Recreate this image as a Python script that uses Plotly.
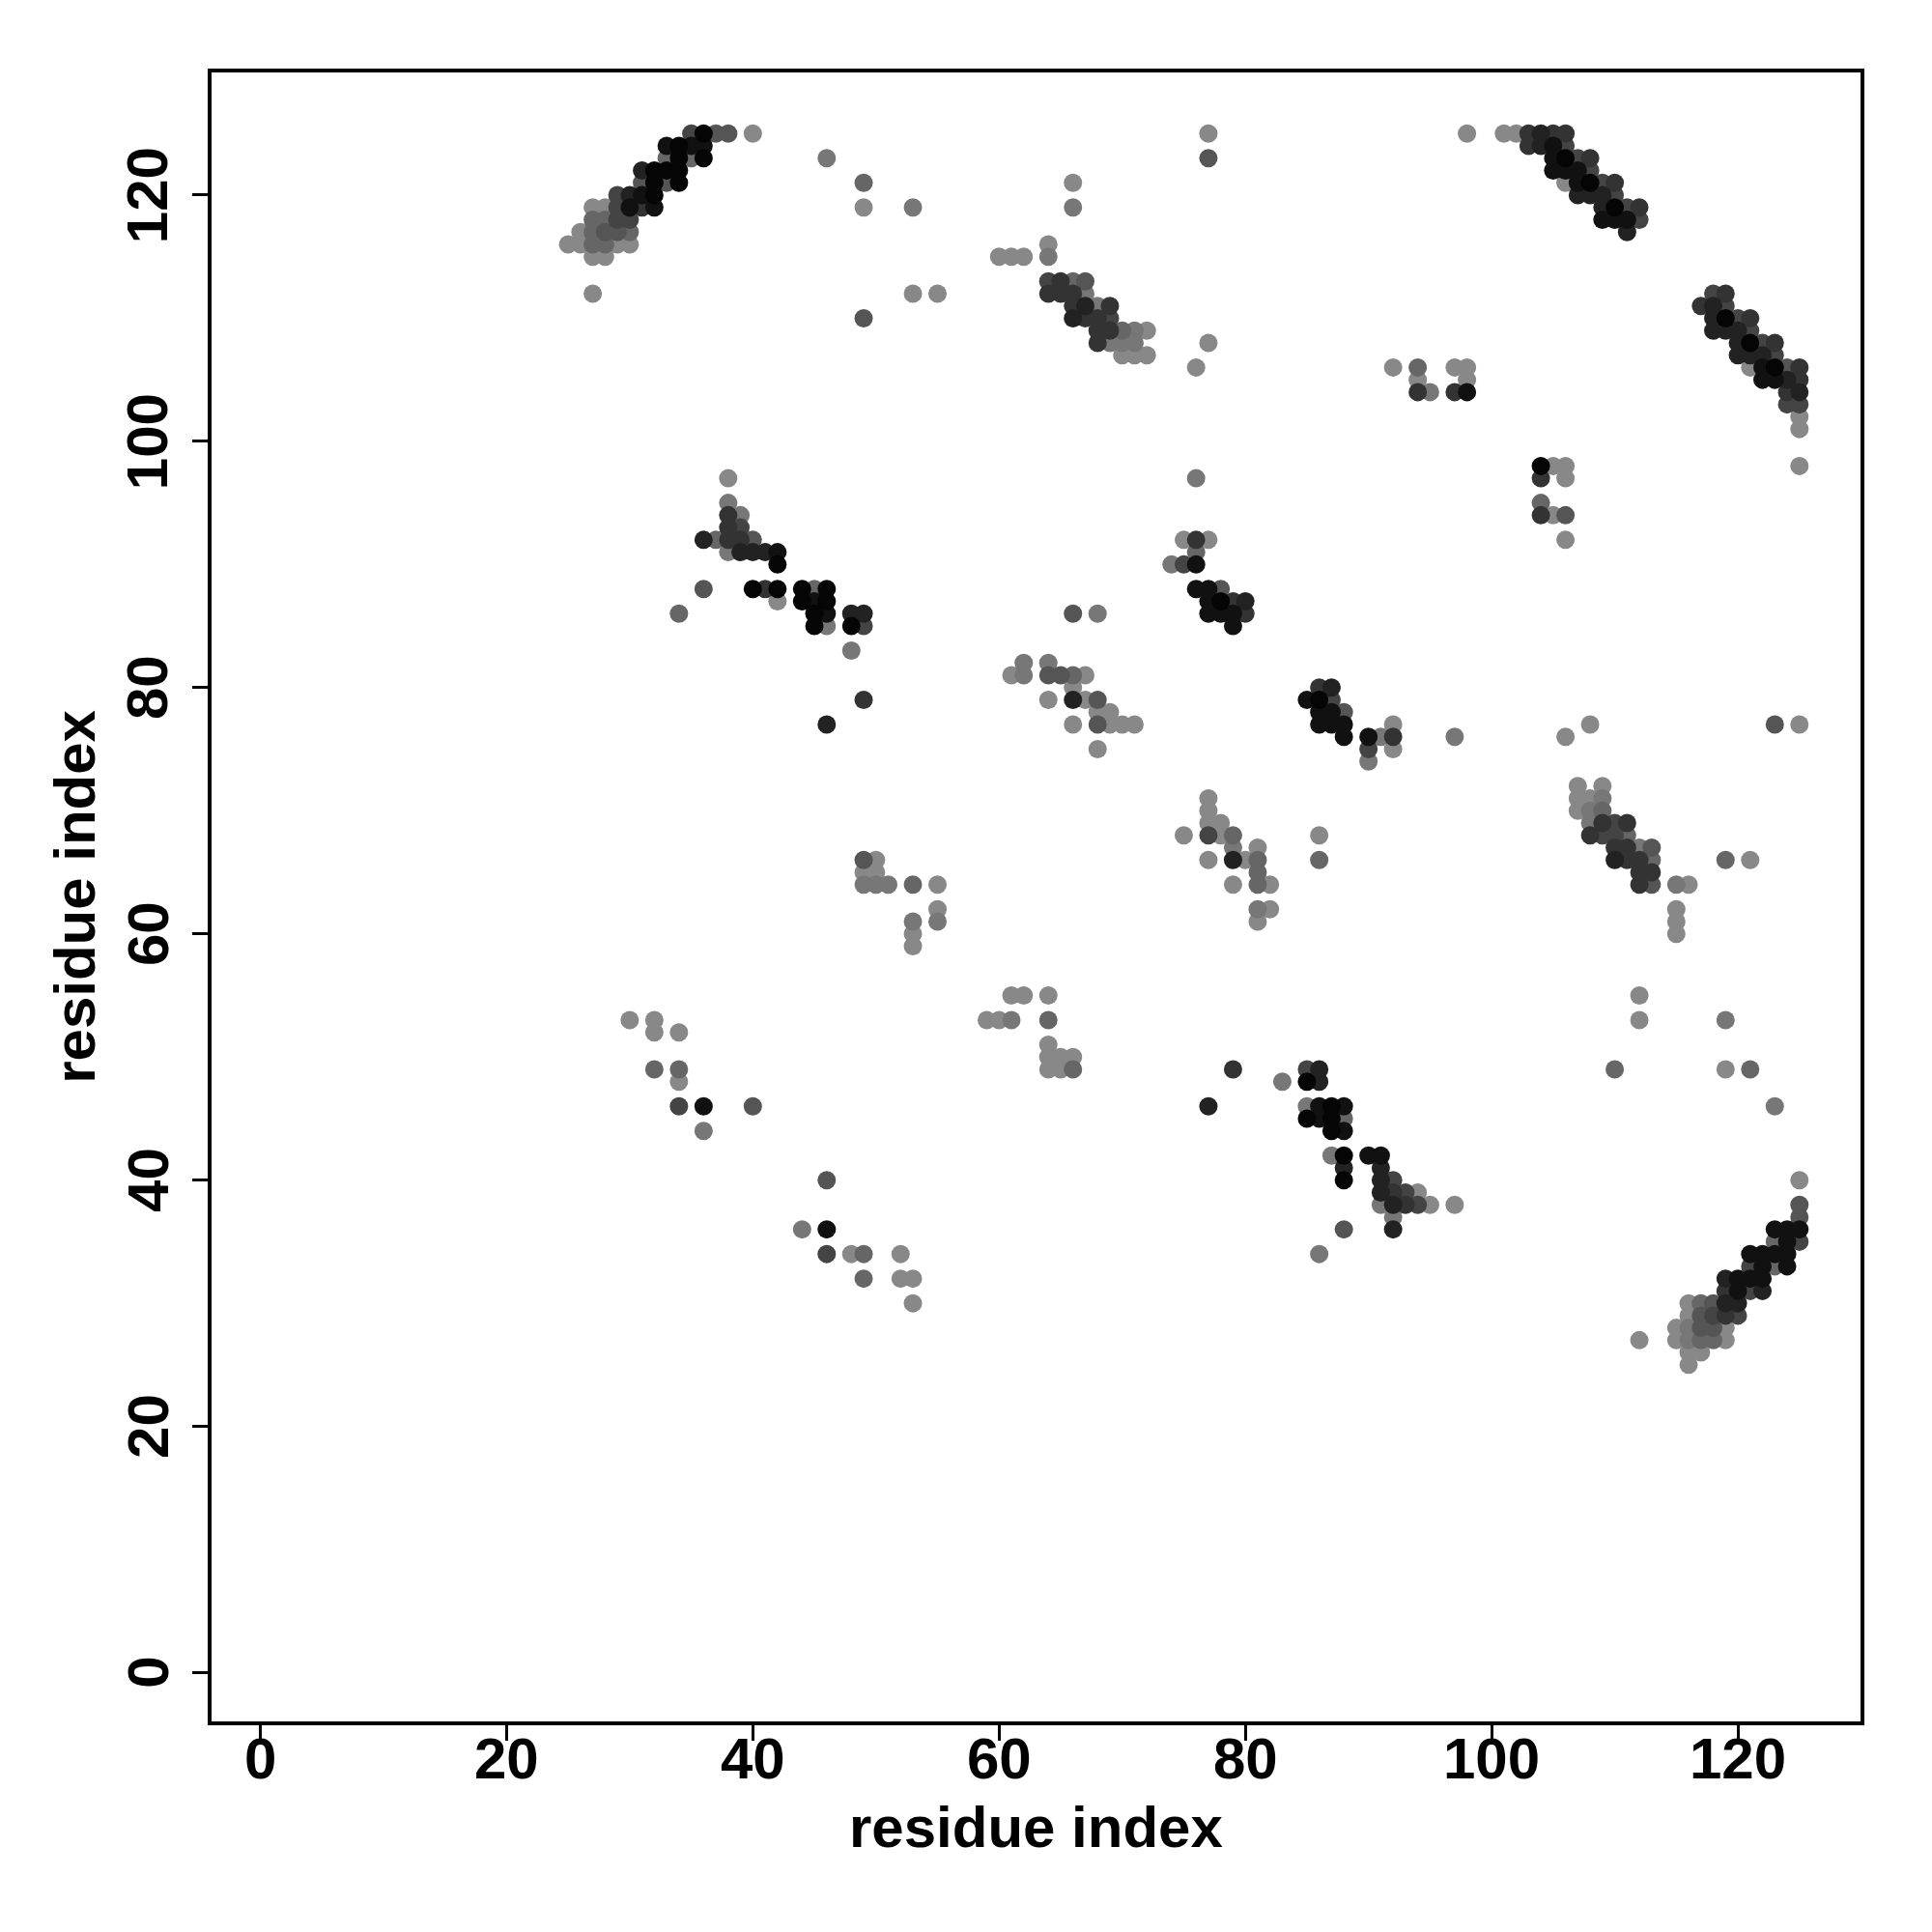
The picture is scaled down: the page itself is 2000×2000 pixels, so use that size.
import plotly.graph_objects as go

# contact map points: residue i (x), residue j (y), gray level (0=black .. 136=light gray)
res_i = [
 35,36,37,38,40, 33,34,35,36, 33,34,35,36, 46, 31,32,33,34, 31,32,33,34, 49,
 29,30,31,32, 27,28,29,30,31,32, 49, 27,28,29,30, 26,27,28,29,30,
 25,26,27,28,29,30, 27,28, 27, 49,
 53,66,66,77,77, 64,60,61,62,64, 53,55, 64,65,66,67, 64,65,66,67, 66,67,68,69,
 66,67,68,69, 68,69,70,71,72, 68,69,70,71, 70,71,72, 77,76,
 98,101,102,103,104,105,106, 103,104,105,106, 105,106,107,108, 105,106,107,108,
 106,107,108,109,110, 107,108,109,110, 109,110,111,112, 109,110,111,112, 111,
 92,94,97,98, 94,98, 94,95,97,98,
 118,119, 117,118,119, 118,119,120,121, 118,119,120,121, 120,121,122,123,
 120,121,122,123, 121,122,123,124,125, 122,123,124,125, 124,125, 124,125,
 125,125,125, 104,105,106, 104,106, 104, 104,105,106, 106,
 38,38,38,39,38,39, 36,37,38,39,40, 38,39,40,41,42, 42,
 36,40,41,42,44,45,46, 42,44,45,46, 45,46,48,49, 45,46,48,49, 34,48,49,46,
 76,75,76,77,76, 74,75,76, 76,77,78, 77,78,79,80, 77,78,79,80, 79, 66,68,
 62,64, 61,62,64,65,66,67, 66, 64,66,67,68, 68,69, 66,68,69,70,71, 68,
 86,87, 85,86,87, 86,87,88, 86,87,88, 88,90,91,92,97, 92, 90,92, 90,
 108,106,123,125, 107,109, 107,108,109, 107,108,109, 108,109,110,111,
 108,109,110,111, 110,111,112,113, 110,111,112,113,119,121, 112,113,
 112,113,115,116, 115,115,115,
 49,50,49,50, 49,50,51,53,55, 55,53,55,53,53,
 77,77,77,78, 75,77,78,79, 79,81, 77,79,80,81, 81, 79,81,82, 81,82,81, 86,86,
 30,32,32,34, 32,34,34, 34,36,40,36, 46,44,46, 46,48,49,52, 49,52,53,53,
 61,62,64, 59,60,61,64, 64,64,65,66, 64,65,66,
 79,83,77, 85,86,85,86, 85,86,87,88, 85,86,87,88, 87,88, 87,88,90,91, 88,91,
 88,91,92, 91,92,93,94, 91,92,93,94,95,97, 92, 88,92, 86,
 112,112,119, 110,119,121,123, 125,125,125, 123,124,125, 123,124,125,
 121,122,123,124, 121,122,123,124, 119,120,121,122, 119,120,121,122,
 116,117,118,119,120, 116,117,118,119,120, 115,116,117,118,119,
 112,115,116,117,118,119, 116,117, 116,
]
res_j = [
 125,125,125,125,125, 124,124,124,124, 123,123,123,123, 123, 122,122,122,122, 121,121,121,121, 121,
 120,120,120,120, 119,119,119,119,119,119, 119, 118,118,118,118, 117,117,117,117,117,
 116,116,116,116,116,116, 115,115, 112, 110,
 119,121,119,125,123, 116,115,115,115,115, 112,112, 113,113,113,113, 112,112,112,112, 111,111,111,111,
 110,110,110,110, 109,109,109,109,109, 108,108,108,108, 107,107,107, 108,106,
 125,125,125,125,125,125,125, 124,124,124,124, 123,123,123,123, 122,122,122,122,
 121,121,121,121,121, 120,120,120,120, 119,119,119,119, 118,118,118,118, 117,
 106,106,106,106, 105,105, 104,104,104,104,
 112,112, 111,111,111, 110,110,110,110, 109,109,109,109, 108,108,108,108,
 107,107,107,107, 106,106,106,106,106, 105,105,105,105, 104,104, 103,103,
 102,101,98, 98,98,98, 97,97, 95, 94,94,94, 92,
 97,95,94,94,93,93, 92,92,92,92,92, 91,91,91,91,91, 90,
 88,88,88,88,88,88,88, 87,87,87,87, 86,86,86,86, 85,85,85,85, 86,83,79,77,
 97,92,92,92,91, 90,90,90, 88,88,88, 87,87,87,87, 86,86,86,86, 85, 86,86,
 82,82, 81,81,81,81,81,81, 80, 79,79,79,79, 78,78, 77,77,77,77,77, 75,
 80,80, 79,79,79, 78,78,78, 77,77,77, 76,76,76,76,76, 77, 75,75, 74,
 77,76,77,77, 72,72, 71,71,71, 70,70,70, 69,69,69,69,
 68,68,68,68, 67,67,67,67, 66,66,66,66,66,66, 65,65,
 64,64,64,64, 62,61,60,
 66,66,65,65, 64,64,64,64,64, 62,61,61,60,59,
 71,70,69,69, 68,68,68,68, 67,67, 66,66,66,66, 65, 64,64,64, 62,62,61, 68,66,
 53,53,52,52, 49,49,48, 46,46,46,44, 40,36,36, 34,34,34,34, 32,32,32,30,
 55,55,55, 53,53,53,53, 51,50,50,50, 49,49,49,
 49,48,46, 49,49,48,48, 46,46,46,46, 45,45,45,45, 44,44, 42,42,42,42, 41,41,
 40,40,40, 39,39,39,39, 38,38,38,38,38,38, 37, 36,36, 34,
 55,53,53, 49,49,49,46, 40,38,37, 36,36,36, 35,35,35,
 34,34,34,34, 33,33,33,33, 32,32,32,32, 31,31,31,31,
 30,30,30,30,30, 29,29,29,29,29, 28,28,28,28,28,
 27,27,27,27,27,27, 26,26, 25,
]
gray = [
 68,5,85,85,136, 17,5,17,17, 102,5,102,5, 119, 34,5,5,5, 85,5,85,5, 102,
 68,34,17,5, 136,136,68,17,51,17, 136, 102,102,68,68, 136,102,85,85,102,
 136,136,102,102,136,136, 136,136, 136, 85,
 119,136,119,136,85, 136,136,136,136,119, 136,136, 68,51,102,85, 51,51,51,119, 51,34,119,51,
 34,51,51,68, 51,51,102,119,136, 51,119,119,119, 136,136,136, 136,136,
 136,136,136,51,34,51,51, 51,34,17,68, 17,5,68,51, 17,17,17,68,
 136,17,5,68,51, 34,34,34,68, 34,5,68,51, 17,17,17,68, 34,
 136,102,136,136, 136,136, 51,119,51,17,
 68,51, 51,34,68, 34,5,68,51, 34,34,34,68, 34,5,68,51,
 34,34,34,68, 136,17,5,85,51, 17,17,34,51, 51,34, 68,68,
 136,136,136, 5,136,136, 51,136, 102, 51,136,85, 136,
 136,119,51,119,51,68, 34,102,51,51,85, 119,34,34,34,17, 5,
 85,5,51,5,5,102,5, 136,5,17,5, 5,17,34,34, 5,119,5,68, 102,119,51,34,
 119,136,51,136,102, 119,68,17, 17,17,85, 17,5,51,34, 17,17,17,51, 17, 85,119,
 119,119, 136,119,85,85,102,136, 136, 136,34,136,85, 136,136, 136,85,136,136,136, 136,
 51,34, 17,5,68, 17,17,85, 17,17,17, 17,17,119,51,119, 136, 68,136, 119,
 136,136,85,136, 136,136, 136,136,119, 136,119,102, 119,51,68,51,
 51,68,68,102, 51,51,119,85, 34,51,51,102,102,136, 51,51,
 51,85,119,136, 136,136,136,
 85,136,136,136, 119,119,119,102,136, 136,119,119,136,136,
 136,136,136,136, 136,68,136,102, 119,136, 136,34,136,102, 102, 136,102,136, 119,136,136, 136,102,
 136,136,136,136, 102,102,136, 68,17,85,119, 85,119,17, 68,136,102,136, 102,136,136,136,
 136,136,136, 136,136,119,102, 136,136,136,136, 136,136,102,
 51,119,34, 68,34,5,34, 119,17,5,17, 5,17,5,102, 5,17, 119,5,17,17, 34,34,
 5,34,68, 34,51,68,136, 119,34,51,68,136,136, 119, 85,34, 119,
 136,136,119, 102,136,102,119, 136,85,85, 17,17,17, 102,17,68,
 17,17,17,17, 68,17,102,17, 34,17,17,17, 51,17,68,34,
 136,102,85,34,34, 136,85,68,51,68, 136,119,85,85,136,
 136,136,119,102,102,136, 136,136, 136,
]

x_ticks = [0, 20, 40, 60, 80, 100, 120]
y_ticks = [0, 20, 40, 60, 80, 100, 120]
axis_label = "residue index"

# draw lighter points first so darker contacts sit on top
order = sorted(range(len(gray)), key=lambda k: -gray[k])
xs = [res_i[k] for k in order]
ys = [res_j[k] for k in order]
cols = [f"rgb({gray[k]},{gray[k]},{gray[k]})" for k in order]

fig = go.Figure(go.Scatter(
    x=xs, y=ys, mode="markers",
    marker=dict(size=19, color=cols, line=dict(width=0)),
    hoverinfo="x+y",
))

font_family = "Liberation Sans, Arial, Helvetica, sans-serif"
tick_font = dict(family=font_family, size=60, color="black", weight="bold")
title_font = dict(family=font_family, size=60, color="black", weight="bold")
rng = [-3.96, 129.96]
common = dict(
    range=rng, showgrid=False, zeroline=False,
    showline=True, mirror=True, linecolor="black", linewidth=4,
    ticks="outside", ticklen=16, tickwidth=3, tickcolor="black",
    showticklabels=False,
)
fig.update_xaxes(tickvals=x_ticks, **common)
fig.update_yaxes(tickvals=y_ticks, **common)

# tick labels (placed close to the axis, like base R graphics)
for v in x_ticks:
    fig.add_annotation(text=str(v), xref="x", yref="paper", x=v, y=-0.0225,
                       xanchor="center", yanchor="middle", showarrow=False, font=tick_font)
for v in y_ticks:
    fig.add_annotation(text=str(v), xref="paper", yref="y", x=-0.0385, y=v,
                       xanchor="center", yanchor="middle", showarrow=False,
                       textangle=-90, font=tick_font)

fig.add_annotation(text=axis_label, xref="paper", yref="paper", x=0.5, y=-0.064,
                   xanchor="center", yanchor="middle", showarrow=False, font=title_font)
fig.add_annotation(text=axis_label, xref="paper", yref="paper", x=-0.083, y=0.5,
                   xanchor="center", yanchor="middle", showarrow=False, textangle=-90,
                   font=title_font)

fig.update_layout(
    width=2000, height=2000,
    margin=dict(l=211, r=82, t=67, b=226),
    plot_bgcolor="white", paper_bgcolor="white",
    showlegend=False,
)

fig.write_html("out.html")
